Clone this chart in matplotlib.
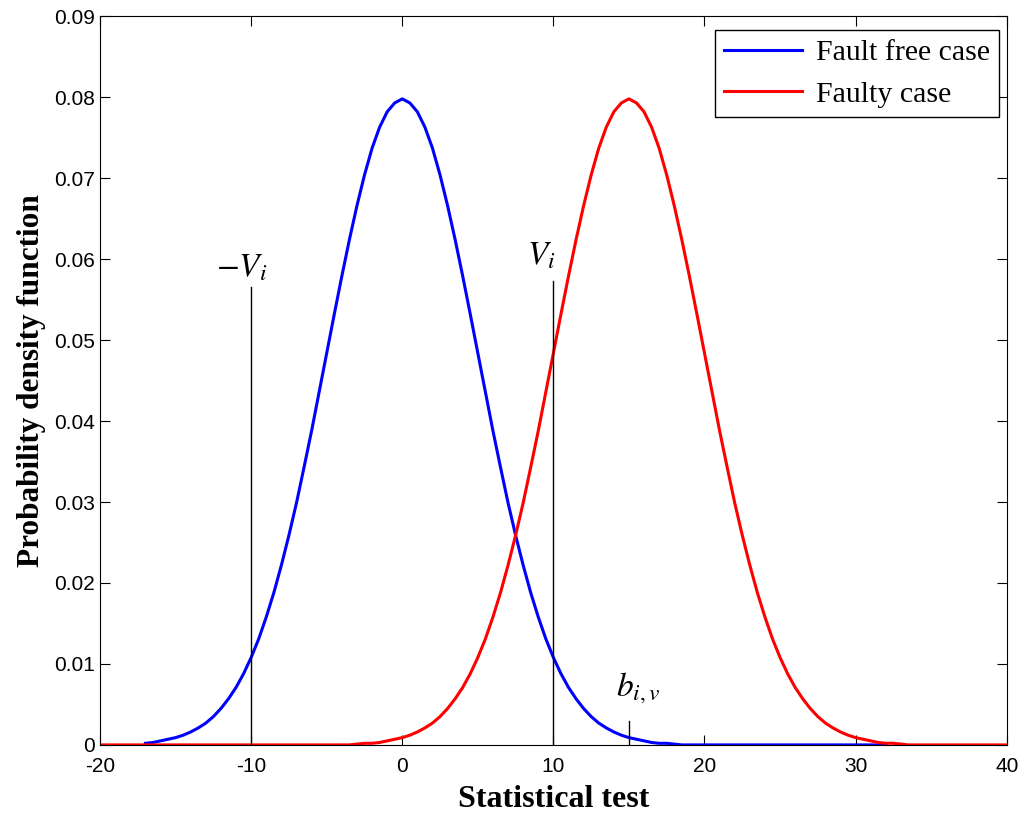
import numpy as np
import matplotlib
matplotlib.use("Agg")
import matplotlib.pyplot as plt

x_free = np.arange(-17, 32.01, 0.5)
pdf_free = [0.0002, 0.0003, 0.0005, 0.0007, 0.0009, 0.0012, 0.0016, 0.0021, 0.0027,
            0.0035, 0.0045, 0.0057, 0.0071, 0.0088, 0.0108, 0.0131, 0.0158, 0.0188,
            0.0222, 0.0259, 0.0299, 0.0343, 0.0388, 0.0436, 0.0484, 0.0532, 0.0579,
            0.0624, 0.0666, 0.0704, 0.0737, 0.0763, 0.0782, 0.0793, 0.0798,
            0.0793, 0.0782, 0.0763, 0.0737, 0.0704, 0.0666, 0.0624, 0.0579, 0.0532,
            0.0484, 0.0436, 0.0388, 0.0343, 0.0299, 0.0259, 0.0222, 0.0188, 0.0158,
            0.0131, 0.0108, 0.0088, 0.0071, 0.0057, 0.0045, 0.0035, 0.0027, 0.0021,
            0.0016, 0.0012, 0.0009, 0.0007, 0.0005, 0.0003, 0.0002, 0.0002, 0.0001,
            0, 0, 0, 0, 0, 0, 0, 0, 0, 0, 0, 0, 0, 0,
            0, 0, 0, 0, 0, 0, 0, 0, 0, 0, 0, 0, 0, 0]

x_faulty = np.arange(-20, 40.01, 0.5)
pdf_faulty = [0, 0, 0, 0, 0, 0, 0, 0, 0, 0, 0, 0, 0, 0, 0, 0, 0,
              0, 0, 0, 0, 0, 0, 0, 0, 0, 0, 0, 0, 0, 0, 0, 0, 0,
              0.0001, 0.0002, 0.0002, 0.0003, 0.0005, 0.0007, 0.0009, 0.0012, 0.0016,
              0.0021, 0.0027, 0.0035, 0.0045, 0.0057, 0.0071, 0.0088, 0.0108, 0.0131,
              0.0158, 0.0188, 0.0222, 0.0259, 0.0299, 0.0343, 0.0388, 0.0436, 0.0484,
              0.0532, 0.0579, 0.0624, 0.0666, 0.0704, 0.0737, 0.0763, 0.0782, 0.0793,
              0.0798,
              0.0793, 0.0782, 0.0763, 0.0737, 0.0704, 0.0666, 0.0624, 0.0579, 0.0532,
              0.0484, 0.0436, 0.0388, 0.0343, 0.0299, 0.0259, 0.0222, 0.0188, 0.0158,
              0.0131, 0.0108, 0.0088, 0.0071, 0.0057, 0.0045, 0.0035, 0.0027, 0.0021,
              0.0016, 0.0012, 0.0009, 0.0007, 0.0005, 0.0003, 0.0002, 0.0002, 0.0001,
              0, 0, 0, 0, 0, 0, 0, 0, 0, 0, 0, 0, 0, 0]

# threshold markers: (x, top of line)
thresholds = [(-10, 0.0566), (10, 0.0573)]
b_iv = (15, 0.0030)

plt.rcParams["mathtext.fontset"] = "stix"
plt.rcParams["axes.unicode_minus"] = False

fig = plt.figure(figsize=(10.21, 8.15), dpi=100)
ax = fig.add_axes([0.098, 0.086, 0.888, 0.894])

ax.plot(x_free, pdf_free, color="blue", lw=2.2, label="Fault free case")
ax.plot(x_faulty, pdf_faulty, color="red", lw=2.2, label="Faulty case")

for xv, top in thresholds:
    ax.plot([xv, xv], [0, top], color="black", lw=1)
ax.plot([b_iv[0], b_iv[0]], [0, b_iv[1]], color="black", lw=1)

ax.text(-10.6, 0.0590, "$-V_i$", fontsize=24, ha="center", va="center")
ax.text(9.2, 0.0605, "$V_i$", fontsize=24, ha="center", va="center")
ax.text(15.6, 0.0070, "$b_{i,v}$", fontsize=24, ha="center", va="center")

ax.set_xlim(-20, 40)
ax.set_ylim(0, 0.09)
ax.set_xticks(range(-20, 41, 10))
ax.set_yticks(np.arange(0, 0.0901, 0.01))
ax.set_yticklabels(["0"] + [f"{v:.2f}" for v in np.arange(0.01, 0.0901, 0.01)])
ax.tick_params(direction="in", top=True, right=True, length=7, labelsize=15)
ax.tick_params(axis="x", pad=9)
for lbl in ax.get_xticklabels() + ax.get_yticklabels():
    lbl.set_family("Liberation Sans")

ax.set_xlabel("Statistical test", fontsize=23, fontweight="bold",
              family="Liberation Serif", labelpad=6)
ax.set_ylabel("Probability density function", fontsize=22.5, fontweight="bold",
              family="Liberation Serif", labelpad=6)

leg = ax.legend(loc="upper right", bbox_to_anchor=(0.992, 0.981), borderaxespad=0,
                prop={"family": "Liberation Serif", "size": 21.5},
                fancybox=False, edgecolor="black", framealpha=1,
                handlelength=2.6, handletextpad=0.5, labelspacing=0.5,
                borderpad=0.3)
leg.get_frame().set_linewidth(1)

fig.savefig("out.png", dpi=100)
